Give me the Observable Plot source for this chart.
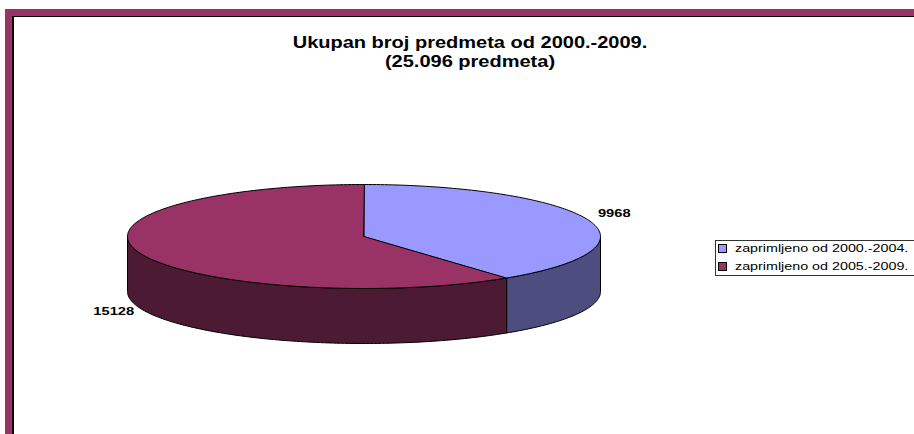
<!DOCTYPE html>
<html><head><meta charset="utf-8">
<script src="https://cdn.jsdelivr.net/npm/d3@7"></script>
<script src="https://cdn.jsdelivr.net/npm/@observablehq/plot@0.6"></script>
<style>
html,body{margin:0;padding:0;background:#fff}
body{width:914px;height:434px;overflow:hidden;position:relative;font-family:Arial,"Liberation Sans",sans-serif}
.fr{position:absolute;background:#993366}
.sh{position:absolute;background:#000}
#chart{position:absolute;left:0;top:0}
#title{position:absolute;left:0;width:940px;top:33px;text-align:center;font-weight:bold;font-size:16px;line-height:19px;color:#000;transform:scaleX(1.25);transform-origin:470px 0}
#legend{position:absolute;left:715px;top:240px;width:215px;height:34px;border:1px solid #333;background:#fff;font-size:11px}
#legend .row{position:absolute;left:2px;height:16px;line-height:16px;white-space:nowrap}
#legend .sw{display:inline-block;width:7px;height:7px;border:1px solid #000;margin-right:8px;vertical-align:-1px}
#legend .tx{display:inline-block;transform:scaleX(1.3);transform-origin:0 50%}
</style>
</head><body>
<div class="fr" style="left:5px;top:9px;width:909px;height:7px"></div>
<div class="fr" style="left:5px;top:9px;width:7px;height:425px"></div>
<div class="sh" style="left:12px;top:16px;width:902px;height:1px"></div>
<div class="sh" style="left:12px;top:16px;width:2px;height:418px"></div>
<div id="chart"></div>
<div id="title"></div>
<div id="legend"></div>
<script>
// ---- data ----
const titleLines = ["Ukupan broj predmeta od 2000.-2009.", "(25.096 predmeta)"];
const categories = ["zaprimljeno od 2000.-2004.", "zaprimljeno od 2005.-2009."];
const values = [9968, 15128];
const valueLabels = ["9968", "15128"];

// ---- style ----
const topColors = ["#9999FF", "#993366"];
const sideColors = ["#4D4D80", "#4D1A33"];

// ---- geometry of the tilted pie ----
const cx = 363.5, cy = 236, rx = 236.5, ry = 52, depth = 55;
const total = d3.sum(values);
const pt = (t, dy = 0) => ({x: cx + rx * Math.sin(t), y: cy - ry * Math.cos(t) + dy});
function arc(a0, a1, dy = 0) {
  const n = Math.max(2, Math.ceil((a1 - a0) / (Math.PI / 180)));
  return d3.range(n + 1).map(i => pt(a0 + (a1 - a0) * i / n, dy));
}

let a = 0;
const slices = values.map((v, i) => {
  const a0 = a, a1 = a + 2 * Math.PI * v / total;
  a = a1;
  return {i, a0, a1};
});

const marks = [];
// side walls (front half only)
for (const s of slices) {
  const s0 = Math.max(s.a0, Math.PI / 2), s1 = Math.min(s.a1, 3 * Math.PI / 2);
  if (s1 > s0) {
    const poly = [...arc(s0, s1), ...arc(s0, s1, depth).reverse()];
    marks.push(Plot.line(poly, {x: "x", y: "y", curve: "linear-closed", fill: sideColors[s.i], stroke: "#000", strokeWidth: 1}));
  }
}
// top faces
for (const s of slices) {
  const poly = [{x: cx, y: cy}, ...arc(s.a0, s.a1)];
  marks.push(Plot.line(poly, {x: "x", y: "y", curve: "linear-closed", fill: topColors[s.i], stroke: "#000", strokeWidth: 1}));
}
// value labels
const labels = slices.map(s => {
  const m = (s.a0 + s.a1) / 2, k = 1.116;
  const front = Math.cos(m) < 0;
  return {
    x: cx + rx * k * Math.sin(m),
    y: cy - ry * k * Math.cos(m) + (front ? depth + 1 : -5),
    text: valueLabels[s.i]
  };
});
marks.push(Plot.text(labels, {x: "x", y: "y", text: "text", fontSize: 11.5, fontWeight: "bold", fontFamily: "Arial, 'Liberation Sans', sans-serif", fill: "#000"}));

const chart = Plot.plot({
  width: 914, height: 434, margin: 0,
  x: {domain: [0, 914], range: [0, 914], axis: null},
  y: {domain: [0, 434], range: [0, 434], axis: null},
  style: {background: "transparent"},
  marks
});
// the reference text is horizontally stretched
chart.querySelectorAll("text").forEach(t => {
  const x = +t.getAttribute("x") || 0, y = +t.getAttribute("y") || 0;
  const tr = t.getAttribute("transform") || "";
  t.setAttribute("transform", `${tr} translate(${x},${y}) scale(1.28,1) translate(${-x},${-y})`);
});
document.getElementById("chart").appendChild(chart);

document.getElementById("title").innerHTML = titleLines.join("<br>");
const lg = document.getElementById("legend");
categories.forEach((c, i) => {
  const row = document.createElement("div");
  row.className = "row";
  row.style.top = (i * 18 - 1) + "px";
  row.innerHTML = `<span class="sw" style="background:${topColors[i]}"></span><span class="tx">${c}</span>`;
  lg.appendChild(row);
});
</script>
</body></html>
